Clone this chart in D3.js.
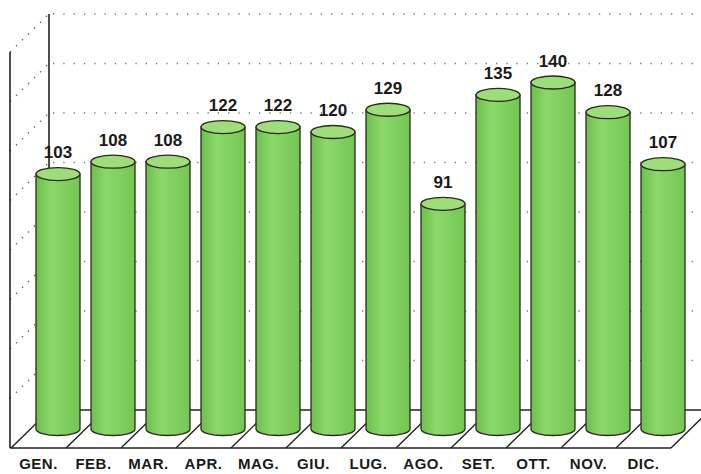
<!DOCTYPE html>
<html lang="en">
<head>
<meta charset="UTF-8">
<title>Mesi</title>
<script src="https://d3js.org/d3.v7.min.js"></script>
<style>
  body { margin:0; background:#ffffff; }
  svg { display:block; }
</style>
</head>
<body>
<svg id="chart" width="701" height="474"></svg>
<script>
// data
var months = ["GEN.", "FEB.", "MAR.", "APR.", "MAG.", "GIU.", "LUG.", "AGO.", "SET.", "OTT.", "NOV.", "DIC."];
var values = [103, 108, 108, 122, 122, 120, 129, 91, 135, 140, 128, 107];
var gridTicks = [0, 20, 40, 60, 80, 100, 120, 140, 160];

var svg = d3.select("#chart");

// depth offset of the floor (back wall -> front edge)
var dx = -39, dy = 38;

var y = d3.scaleLinear().domain([0, 160]).range([410, 14]);
var x = d3.scaleBand().domain(months).range([50, 710]).padding(0);

var wallX = 49, frontX = wallX + dx;

// gradient for the cylinders
var defs = svg.append("defs");
var g1 = defs.append("linearGradient").attr("id", "body").attr("x1", "0").attr("x2", "1");
g1.append("stop").attr("offset", "0%").attr("stop-color", "#6cc04c");
g1.append("stop").attr("offset", "35%").attr("stop-color", "#8cd86c");
g1.append("stop").attr("offset", "100%").attr("stop-color", "#74c652");

// back wall grid lines (dotted)
svg.append("g")
  .selectAll("line")
  .data(gridTicks.slice(1))
  .enter().append("line")
    .attr("x1", wallX + 4).attr("x2", 701)
    .attr("y1", function(d){ return y(d); })
    .attr("y2", function(d){ return y(d); })
    .attr("stroke", "#777")
    .attr("stroke-width", 1.3)
    .attr("stroke-dasharray", "1.3,9");

// side wall diagonals (dotted)
svg.append("g")
  .selectAll("line")
  .data(gridTicks.slice(1))
  .enter().append("line")
    .attr("x1", frontX).attr("x2", wallX)
    .attr("y1", function(d){ return y(d) + dy; })
    .attr("y2", function(d){ return y(d); })
    .attr("stroke", "#666")
    .attr("stroke-width", 1.4)
    .attr("stroke-dasharray", "1.4,7");

// wall edges
svg.append("line").attr("x1", wallX).attr("x2", wallX).attr("y1", y(160)).attr("y2", y(0))
  .attr("stroke", "#222").attr("stroke-width", 1.6);
svg.append("line").attr("x1", frontX).attr("x2", frontX).attr("y1", y(160) + dy).attr("y2", y(0) + dy)
  .attr("stroke", "#222").attr("stroke-width", 1.6);

// floor
var floor = svg.append("g").attr("stroke", "#222").attr("stroke-width", 1.4).attr("fill", "none");
floor.append("line").attr("x1", wallX).attr("x2", 712).attr("y1", y(0)).attr("y2", y(0));
floor.append("line").attr("x1", frontX).attr("x2", x.range()[1] + dx).attr("y1", y(0) + dy).attr("y2", y(0) + dy);
floor.selectAll(".div")
  .data(months.concat(["end"]))
  .enter().append("line")
    .attr("class", "div")
    .attr("x1", function(d, i){ return x.range()[0] + i * x.step(); })
    .attr("y1", y(0))
    .attr("x2", function(d, i){ return x.range()[0] + i * x.step() + dx; })
    .attr("y2", y(0) + dy);

// cylinders
var r = 22, ry = 6.5;
var bars = svg.append("g")
  .selectAll("g")
  .data(values)
  .enter().append("g");

bars.each(function(v, i) {
  var cx = x(months[i]) + x.bandwidth() / 2 + dx / 2;
  var top = y(v) + dy / 2;
  var base = y(0) + dy / 2;
  var s = d3.select(this);
  s.append("path")
    .attr("d", "M" + (cx - r) + "," + top +
               "L" + (cx - r) + "," + base +
               "A" + r + "," + ry + " 0 0 0 " + (cx + r) + "," + base +
               "L" + (cx + r) + "," + top + "Z")
    .attr("fill", "url(#body)")
    .attr("stroke", "#2a2a1a")
    .attr("stroke-width", 1.3);
  s.append("ellipse")
    .attr("cx", cx).attr("cy", top)
    .attr("rx", r).attr("ry", ry)
    .attr("fill", "#9edc7c")
    .attr("stroke", "#2a2a1a")
    .attr("stroke-width", 1.3);
  s.append("text")
    .attr("x", cx).attr("y", top - 16)
    .attr("text-anchor", "middle")
    .attr("font-family", "Liberation Sans, Arial, sans-serif")
    .attr("font-weight", "bold")
    .attr("font-size", 17)
    .attr("fill", "#1a1a1a")
    .text(v);
});

// month labels under the front edge
svg.append("g")
  .selectAll("text")
  .data(months)
  .enter().append("text")
    .attr("x", function(d){ return x(d) + x.bandwidth() / 2 + dx; })
    .attr("y", 469)
    .attr("text-anchor", "middle")
    .attr("font-family", "Liberation Sans, Arial, sans-serif")
    .attr("font-weight", "bold")
    .attr("font-size", 15)
    .attr("letter-spacing", 0.5)
    .attr("fill", "#1a1a1a")
    .text(function(d){ return d; });
</script>
</body>
</html>
